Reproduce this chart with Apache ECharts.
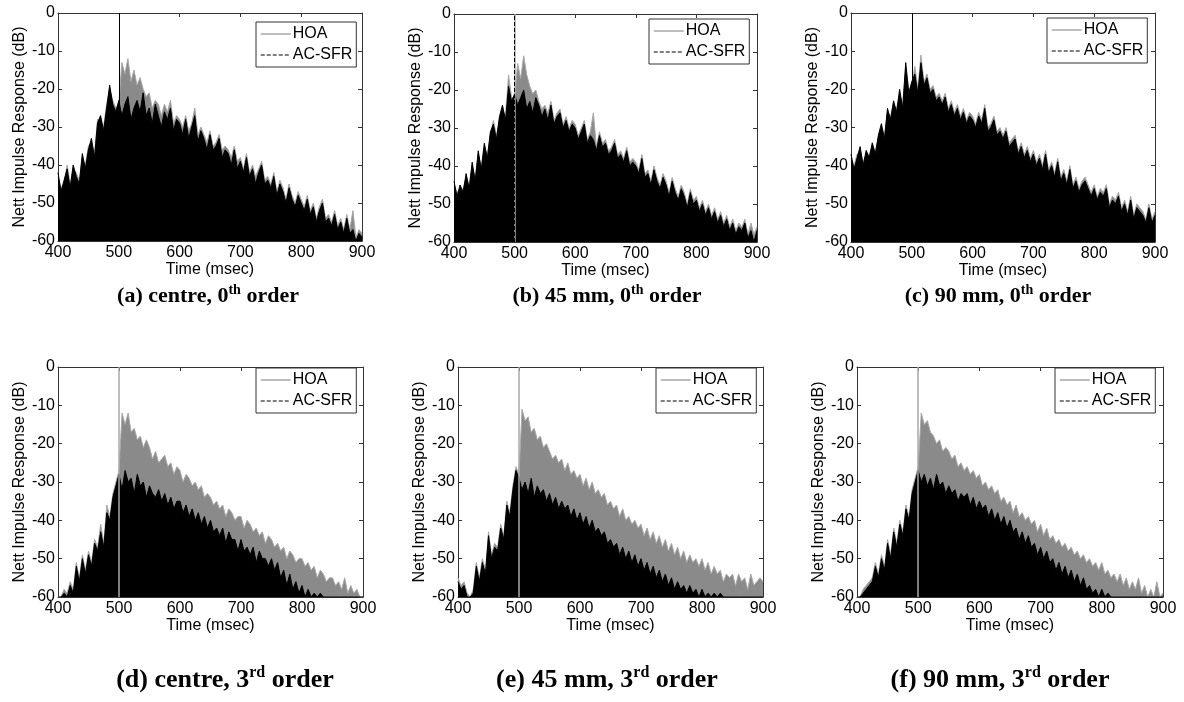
<!DOCTYPE html>
<html>
<head>
<meta charset="utf-8">
<script src="https://cdn.jsdelivr.net/npm/echarts@6/dist/echarts.min.js"></script>
<style>
html,body{margin:0;padding:0;background:#fff;}
#chart{width:1184px;height:702px;}
</style>
</head>
<body>
<div id="chart"></div>
<script>
// Time samples (ms)
const T = [400,405,410,415,420,425,430,435,440,445,450,455,460,465,470,475,480,485,490,495,
500,505,510,515,520,525,530,535,540,545,550,555,560,565,570,575,580,585,590,595,
600,605,610,615,620,625,630,635,640,645,650,655,660,665,670,675,680,685,690,695,
700,705,710,715,720,725,730,735,740,745,750,755,760,765,770,775,780,785,790,795,
800,805,810,815,820,825,830,835,840,845,850,855,860,865,870,875,880,885,890,895,900];

const X_TICKS = [400, 500, 600, 700, 800, 900];
const Y_TICKS = [0, -10, -20, -30, -40, -50, -60];
const DIRECT_MS = 500;   // direct sound arrival, reaching 0 dB
const SERIES_NAMES = ['HOA', 'AC-SFR'];

// (a) centre, 0th order
const a_hoa = [-43,-46,-45,-40,-45,-41,-42,-44,-38,-40,
-35,-34,-37,-28,-28,-30,-24,-20,-23,-25,
-24,-13,-16,-12,-18,-15,-19,-17,-20,-22,
-21,-25,-23,-24,-27,-24,-26,-23,-29,-27,
-28,-30,-27,-31,-29,-25,-32,-30,-32,-34,
-31,-35,-34,-32,-36,-35,-36,-38,-35,-39,
-38,-41,-37,-42,-40,-43,-41,-39,-44,-43,
-45,-42,-47,-44,-46,-49,-45,-48,-50,-47,
-49,-51,-48,-52,-50,-54,-51,-49,-54,-53,
-55,-52,-56,-54,-57,-53,-57,-52,-59,-57,-58];
const a_acsfr = [-42,-47,-44,-41,-46,-40,-43,-45,-37,-41,
-36,-33,-38,-29,-27,-31,-25,-19,-24,-26,
-23,-27,-24,-22,-28,-25,-23,-26,-21,-27,
-25,-29,-24,-27,-30,-26,-28,-25,-31,-28,
-29,-32,-28,-33,-30,-27,-34,-31,-33,-36,
-32,-36,-35,-33,-38,-36,-37,-40,-36,-41,
-39,-42,-38,-43,-41,-45,-42,-40,-45,-44,
-46,-43,-48,-45,-47,-50,-46,-49,-51,-48,
-50,-52,-49,-53,-51,-55,-52,-50,-55,-54,
-56,-53,-57,-55,-58,-54,-58,-57,-60,-58,-59];

// (b) 45 mm, 0th order
const b_hoa = [-45,-47,-46,-46,-43,-45,-40,-43,-37,-40,
-35,-37,-32,-28,-32,-28,-25,-27,-16,-22,
-22,-13,-17,-11,-16,-19,-21,-20,-23,-25,
-24,-26,-23,-28,-26,-25,-29,-27,-30,-28,
-29,-32,-30,-28,-33,-31,-26,-35,-31,-34,
-33,-36,-35,-33,-37,-36,-38,-35,-39,-38,
-39,-41,-37,-42,-41,-44,-40,-43,-45,-42,
-44,-47,-43,-46,-48,-45,-47,-50,-46,-49,
-48,-51,-49,-52,-50,-53,-51,-54,-52,-55,
-53,-56,-54,-57,-55,-56,-54,-58,-55,-58,-56];
const b_acsfr = [-44,-48,-45,-47,-42,-46,-39,-44,-36,-41,
-34,-38,-31,-29,-33,-27,-24,-28,-19,-23,
-21,-24,-22,-20,-25,-23,-26,-22,-24,-27,
-25,-28,-24,-29,-27,-26,-30,-28,-31,-29,
-30,-33,-31,-29,-34,-32,-33,-36,-32,-35,
-34,-37,-36,-34,-38,-37,-39,-36,-40,-39,
-40,-42,-38,-43,-42,-45,-41,-44,-46,-43,
-45,-48,-44,-47,-49,-46,-48,-51,-47,-50,
-49,-52,-50,-53,-51,-54,-52,-55,-53,-56,
-54,-57,-55,-58,-56,-57,-55,-59,-57,-60,-57];

// (c) 90 mm, 0th order
const c_hoa = [-38,-40,-37,-36,-39,-37,-37,-35,-36,-33,
-30,-32,-26,-27,-24,-25,-21,-24,-14,-20,
-19,-14,-20,-11,-18,-16,-20,-19,-22,-21,
-23,-21,-25,-23,-26,-24,-27,-25,-28,-26,
-27,-29,-26,-28,-24,-30,-29,-27,-31,-30,
-32,-30,-34,-33,-32,-36,-34,-37,-35,-38,
-36,-39,-37,-40,-36,-41,-39,-42,-38,-43,
-41,-44,-40,-45,-43,-46,-44,-43,-45,-47,
-45,-48,-46,-47,-45,-50,-48,-49,-47,-51,
-49,-52,-48,-53,-50,-51,-52,-54,-50,-54,-52];
const c_acsfr = [-37,-41,-38,-35,-40,-36,-38,-34,-37,-32,
-29,-33,-25,-28,-23,-26,-20,-25,-13,-21,
-18,-16,-21,-13,-19,-17,-21,-20,-23,-22,
-24,-22,-26,-24,-27,-25,-28,-26,-29,-27,
-28,-30,-27,-29,-25,-31,-30,-28,-32,-31,
-33,-31,-35,-34,-33,-37,-35,-38,-36,-39,
-37,-40,-38,-41,-37,-42,-40,-43,-39,-44,
-42,-45,-41,-46,-44,-47,-45,-44,-46,-48,
-46,-49,-47,-48,-46,-51,-49,-50,-48,-52,
-50,-53,-49,-54,-51,-52,-53,-55,-51,-55,-53];

// (d) centre, 3rd order
const d_hoa = [-60,-60,-58,-59,-56,-58,-51,-55,-49,-53,
-48,-51,-45,-47,-41,-46,-36,-39,-33,-30,
-27,-12,-15,-12,-17,-16,-19,-18,-21,-19,
-21,-24,-22,-25,-24,-23,-26,-25,-28,-26,
-27,-30,-28,-29,-31,-30,-32,-31,-34,-33,
-34,-36,-35,-37,-36,-39,-37,-38,-40,-39,
-39,-42,-40,-41,-43,-42,-44,-43,-46,-44,
-45,-47,-46,-48,-47,-50,-48,-49,-51,-50,
-50,-52,-51,-53,-52,-55,-53,-54,-56,-55,
-55,-57,-56,-58,-55,-59,-57,-59,-58,-60,-60];
const d_acsfr = [-60,-60,-59,-60,-57,-59,-52,-56,-50,-54,
-49,-52,-46,-48,-43,-47,-38,-40,-34,-31,
-28,-32,-27,-30,-29,-33,-28,-31,-30,-34,
-31,-33,-34,-32,-35,-33,-36,-34,-37,-35,
-35,-38,-36,-39,-37,-40,-38,-41,-39,-42,
-40,-43,-42,-44,-42,-46,-43,-45,-45,-48,
-45,-48,-47,-49,-47,-51,-48,-50,-50,-52,
-50,-53,-51,-55,-53,-57,-54,-58,-56,-59,
-57,-60,-58,-60,-59,-60,-59,-60,-60,-60,
-60,-60,-60,-60,-60,-60,-60,-60,-60,-60,-60];

// (e) 45 mm, 3rd order
const e_hoa = [-55,-57,-56,-59,-60,-58,-51,-55,-50,-53,
-43,-49,-46,-47,-41,-44,-35,-38,-31,-26,
-28,-11,-14,-13,-17,-16,-19,-18,-21,-20,
-22,-24,-23,-25,-24,-27,-25,-28,-27,-29,
-28,-31,-29,-32,-30,-33,-32,-34,-33,-36,
-35,-37,-36,-39,-37,-40,-39,-41,-40,-42,
-41,-44,-42,-45,-43,-46,-44,-47,-45,-48,
-46,-49,-47,-50,-48,-51,-49,-51,-50,-52,
-50,-53,-51,-54,-52,-54,-53,-56,-54,-55,
-54,-57,-54,-56,-55,-58,-54,-57,-56,-55,-56];
const e_acsfr = [-56,-58,-57,-60,-60,-59,-52,-56,-51,-54,
-44,-50,-47,-48,-42,-45,-36,-39,-32,-27,
-29,-32,-30,-33,-29,-34,-31,-33,-32,-35,
-33,-36,-34,-37,-35,-37,-36,-39,-37,-40,
-38,-41,-39,-42,-40,-43,-42,-44,-43,-46,
-45,-47,-46,-49,-47,-50,-48,-51,-49,-52,
-50,-53,-51,-54,-52,-55,-53,-56,-54,-57,
-55,-58,-56,-58,-57,-59,-57,-59,-58,-60,
-58,-60,-59,-60,-59,-60,-59,-60,-60,-60,
-60,-60,-60,-60,-60,-60,-60,-60,-60,-60,-60];

// (f) 90 mm, 3rd order
const f_hoa = [-60,-60,-58,-57,-56,-55,-51,-54,-49,-52,
-45,-49,-42,-46,-40,-43,-36,-39,-32,-29,
-26,-12,-15,-14,-17,-18,-20,-19,-22,-21,
-22,-24,-23,-26,-25,-27,-26,-28,-27,-29,
-28,-31,-30,-32,-31,-33,-32,-35,-34,-36,
-35,-38,-36,-39,-38,-40,-39,-41,-40,-43,
-41,-44,-42,-45,-44,-46,-45,-47,-46,-48,
-47,-49,-48,-50,-49,-51,-50,-52,-51,-53,
-51,-54,-53,-55,-54,-56,-54,-57,-55,-58,
-56,-58,-55,-59,-57,-60,-58,-60,-56,-60,-59];
const f_acsfr = [-60,-60,-59,-58,-57,-56,-52,-55,-50,-53,
-46,-50,-43,-47,-41,-44,-37,-40,-33,-30,
-27,-30,-28,-31,-29,-32,-28,-31,-30,-33,
-31,-33,-32,-35,-33,-34,-33,-36,-34,-37,
-35,-37,-36,-39,-37,-40,-38,-41,-39,-42,
-40,-43,-42,-45,-43,-46,-44,-47,-46,-49,
-47,-50,-48,-51,-50,-53,-51,-54,-52,-55,
-53,-56,-54,-57,-55,-58,-57,-59,-58,-60,
-58,-60,-59,-60,-60,-60,-60,-60,-60,-60,
-60,-60,-60,-60,-60,-60,-60,-60,-60,-60,-60];

// Captions: [prefix, superscript, suffix]
const CAPTIONS = [
  ['(a) centre, 0', 'th', ' order'],
  ['(b) 45 mm, 0', 'th', ' order'],
  ['(c) 90 mm, 0', 'th', ' order'],
  ['(d) centre, 3', 'rd', ' order'],
  ['(e) 45 mm, 3', 'rd', ' order'],
  ['(f) 90 mm, 3', 'rd', ' order']
];

const DATA = [
  [a_hoa, a_acsfr], [b_hoa, b_acsfr], [c_hoa, c_acsfr],
  [d_hoa, d_acsfr], [e_hoa, e_acsfr], [f_hoa, f_acsfr]
];

// layout (pixels)
const LAYOUT = [
  {grid:[58,13,304,228],  legend:[256,22],  cap:[208,296,22], direct:'acsfr'},
  {grid:[454,14,303,228], legend:[649,19],  cap:[607,296,22], direct:'both'},
  {grid:[851,13,304,229], legend:[1047,18], cap:[998,296,22], direct:'acsfr'},
  {grid:[58,367,305,230], legend:[256,368], cap:[225,680,26], direct:'hoa'},
  {grid:[458,367,305,230],legend:[656,368], cap:[607,680,26], direct:'hoa'},
  {grid:[857,367,306,230],legend:[1055,368],cap:[1000,680,26],direct:'hoa'}
];

const SANS = '"Liberation Sans", Arial, sans-serif';
const SERIF = '"Liberation Serif", "Times New Roman", serif';
const AXIS_COLOR = '#333';
const HOA_LINE = '#a8a8a8';
const HOA_FILL = '#8a8a8a';
const NO_SYMBOL = 'rgba(0,0,0,0)';

const chart = echarts.init(document.getElementById('chart'), null, {renderer: 'canvas'});

const grids = [], xAxes = [], yAxes = [], series = [], legends = [], graphics = [];

LAYOUT.forEach((L, p) => {
  const [gl, gt, gw, gh] = L.grid;
  grids.push({left: gl, top: gt, width: gw, height: gh, containLabel: false});
  const xMin = X_TICKS[0], xMax = X_TICKS[X_TICKS.length - 1];
  const yMin = Y_TICKS[Y_TICKS.length - 1], yMax = Y_TICKS[0];
  const lineStyle = {color: AXIS_COLOR, width: 1};
  xAxes.push({
    gridIndex: p, type: 'value', position: 'bottom', min: xMin, max: xMax, interval: 100,
    axisLine: {show: true, onZero: false, lineStyle},
    axisTick: {show: true, inside: true, length: 4, lineStyle},
    axisLabel: {show: true, margin: 4, color: '#000', fontSize: 16, fontFamily: SANS},
    splitLine: {show: false},
    name: 'Time (msec)', nameLocation: 'middle', nameGap: 20,
    nameTextStyle: {color: '#000', fontSize: 16, fontFamily: SANS}
  });
  xAxes.push({
    gridIndex: p, type: 'value', position: 'top', min: xMin, max: xMax, interval: 100,
    axisLine: {show: true, onZero: false, lineStyle},
    axisTick: {show: true, inside: true, length: 4, lineStyle},
    axisLabel: {show: false}, splitLine: {show: false}
  });
  yAxes.push({
    gridIndex: p, type: 'value', position: 'left', min: yMin, max: yMax, interval: 10,
    axisLine: {show: true, onZero: false, lineStyle},
    axisTick: {show: true, inside: true, length: 4, lineStyle},
    axisLabel: {show: true, margin: 3, color: '#000', fontSize: 16, fontFamily: SANS},
    splitLine: {show: false},
    name: 'Nett Impulse Response (dB)', nameLocation: 'middle', nameGap: 26, nameRotate: 90,
    nameTextStyle: {color: '#000', fontSize: 16, fontFamily: SANS}
  });
  yAxes.push({
    gridIndex: p, type: 'value', position: 'right', min: yMin, max: yMax, interval: 10,
    axisLine: {show: true, onZero: false, lineStyle},
    axisTick: {show: true, inside: true, length: 4, lineStyle},
    axisLabel: {show: false}, splitLine: {show: false}
  });

  const [hoaVals, acVals] = DATA[p];
  const directHoa = (L.direct === 'hoa' || L.direct === 'both');
  const directAc = (L.direct === 'acsfr' || L.direct === 'both');

  series.push({
    name: SERIES_NAMES[0], type: 'line', xAxisIndex: 2 * p, yAxisIndex: 2 * p,
    data: T.map((t, i) => [t, hoaVals[i]]),
    symbol: 'none', silent: true, animation: false, z: 2,
    lineStyle: {color: HOA_LINE, width: 1},
    itemStyle: {color: HOA_LINE},
    areaStyle: {origin: 'start', color: HOA_FILL, opacity: 1},
    markLine: directHoa ? {
      silent: true, symbol: 'none', label: {show: false}, animation: false,
      lineStyle: {color: HOA_LINE, width: 1.5, type: 'solid'},
      data: [{xAxis: DIRECT_MS}]
    } : undefined
  });
  series.push({
    name: SERIES_NAMES[1], type: 'line', xAxisIndex: 2 * p, yAxisIndex: 2 * p,
    data: T.map((t, i) => [t, acVals[i]]),
    symbol: 'none', silent: true, animation: false, z: 3,
    lineStyle: {color: '#000', width: 1},
    itemStyle: {color: '#000'},
    areaStyle: {origin: 'start', color: '#000', opacity: 1},
    markLine: directAc ? {
      silent: true, symbol: 'none', label: {show: false}, animation: false,
      lineStyle: {color: '#000', width: 1, type: L.direct === 'both' ? 'dashed' : 'solid'},
      data: [{xAxis: DIRECT_MS}]
    } : undefined
  });

  legends.push({
    left: L.legend[0], top: L.legend[1], orient: 'vertical',
    selectedMode: false,
    data: [
      {name: SERIES_NAMES[0], itemStyle: {color: NO_SYMBOL, borderWidth: 0, opacity: 0},
       lineStyle: {color: HOA_LINE, width: 1.5, type: 'solid', opacity: 1}},
      {name: SERIES_NAMES[1], itemStyle: {color: NO_SYMBOL, borderWidth: 0, opacity: 0},
       lineStyle: {color: '#000', width: 1, type: 'dashed', opacity: 1}}
    ],
    itemWidth: 30, itemHeight: 14, itemGap: 5,
    padding: [4, 4, 4, 4],
    borderColor: AXIS_COLOR, borderWidth: 1, borderRadius: 0, backgroundColor: '#fff',
    textStyle: {color: '#000', fontSize: 16, fontFamily: SANS, padding: [0, 0, 0, -3]}
  });

  const cap = CAPTIONS[p];
  const fs = L.cap[2];
  graphics.push({
    type: 'text', x: L.cap[0], y: L.cap[1],
    style: {
      text: '{b|' + cap[0] + '}{s|' + cap[1] + '}{b|' + cap[2] + '}',
      textAlign: 'center', textVerticalAlign: 'middle',
      rich: {
        b: {fontFamily: SERIF, fontWeight: 'bold', fontSize: fs, fill: '#000', lineHeight: fs + 4},
        s: {fontFamily: SERIF, fontWeight: 'bold', fontSize: Math.round(fs * 0.62), fill: '#000',
            verticalAlign: 'top', lineHeight: Math.round(fs * 0.62) + 2}
      }
    }
  });
});

chart.setOption({
  animation: false,
  backgroundColor: '#fff',
  grid: grids, xAxis: xAxes, yAxis: yAxes, series, legend: legends,
  graphic: graphics
});
</script>
</body>
</html>
